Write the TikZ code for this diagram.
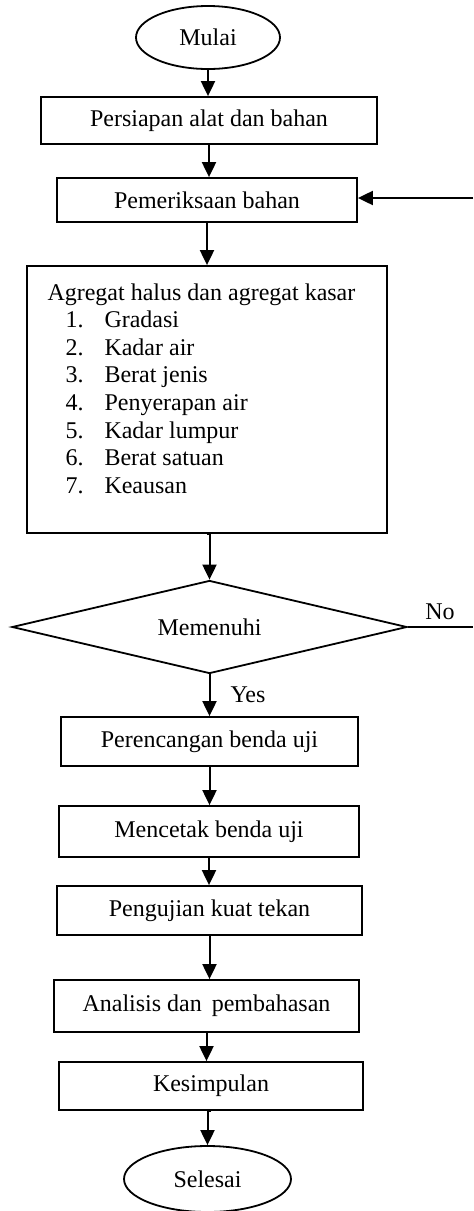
\documentclass[tikz,border=0pt]{standalone}
\usepackage{fontspec}
\setmainfont{Liberation Serif}
\usetikzlibrary{shapes.geometric,arrows.meta,positioning,calc}
\newcommand{\agritem}[2]{\hspace*{9pt}\makebox[19.5pt][l]{#1.}#2}

\begin{document}
\begin{tikzpicture}[x=0.5pt, y=-0.5pt, font=\fontsize{12pt}{13.8pt}\selectfont,
        box/.style={draw, line width=0.9pt, inner sep=0pt},
        terminal/.style={draw, ellipse, line width=0.9pt, inner sep=0pt},
        decision/.style={draw, diamond, aspect=4, line width=0.9pt, inner sep=0pt},
        arr/.style={-{Triangle[length=7.5pt,width=7pt]}, line width=1pt}]
            \useasboundingbox (0,0) rectangle (473,1211);

            \node[terminal, minimum width=72pt, minimum height=31.5pt] (mulai) at (208,37.5) {Mulai};
            \node[box, minimum width=168pt, minimum height=23.5pt] (persiapan) at (209,120.5) {Persiapan alat dan bahan};
            \node[box, minimum width=150pt, minimum height=22pt] (pemeriksaan) at (207,200) {Pemeriksaan bahan};

            \node[box, minimum width=180pt, minimum height=133.5pt] (agregat) at (207,399.5) {};
            \node[anchor=north west, inner sep=0pt, align=left] (agregattext) at ([xshift=10.5pt, yshift=-9pt]agregat.north west)
                {Agregat halus dan agregat kasar\\
                 \agritem{1}{Gradasi}\\
                 \agritem{2}{Kadar air}\\
                 \agritem{3}{Berat jenis}\\
                 \agritem{4}{Penyerapan air}\\
                 \agritem{5}{Kadar lumpur}\\
                 \agritem{6}{Berat satuan}\\
                 \agritem{7}{Keausan}};

            \node[decision, minimum width=197.5pt, minimum height=46.5pt] (memenuhi) at (209.5,627) {Memenuhi};
            \node (nolabel) at (440,612) {No};
            \node (yeslabel) at (248,695) {Yes};

            \node[box, minimum width=148.5pt, minimum height=24.5pt] (perencangan) at (209.5,741.5) {Perencangan benda uji};
            \node[box, minimum width=150pt, minimum height=25.5pt] (mencetak) at (209,831.5) {Mencetak benda uji};
            \node[box, minimum width=152.5pt, minimum height=24.5pt] (pengujian) at (209.5,910.5) {Pengujian kuat tekan};
            \node[box, minimum width=152.5pt, minimum height=26pt] (analisis) at (206.5,1006) {Analisis dan\, pembahasan};
            \node[box, minimum width=152pt, minimum height=24pt] (kesimpulan) at (211,1086) {Kesimpulan};
            \node[terminal, minimum width=83.5pt, minimum height=33pt] (selesai) at (207.5,1179) {Selesai};

            % alur utama
            \draw[arr] (mulai.south) -- (mulai.south |- persiapan.north);
            \draw[arr] (persiapan.south) -- (persiapan.south |- pemeriksaan.north);
            \draw[arr] (pemeriksaan.south) -- (pemeriksaan.south |- agregat.north);
            \draw[arr] (agregat.south) -- (agregat.south -| memenuhi.north) -- (memenuhi.north);
            \draw[arr] (memenuhi.south) -- (memenuhi.south |- perencangan.north);
            \draw[arr] (perencangan.south) -- (perencangan.south |- mencetak.north);
            \draw[arr] (mencetak.south) -- (mencetak.south |- pengujian.north);
            \draw[arr] (pengujian.south) -- (pengujian.south |- analisis.north);
            \draw[arr] (analisis.south) -- (analisis.south |- kesimpulan.north);
            \draw[arr] (kesimpulan.south) -- (kesimpulan.south -| selesai.north) -- (selesai.north);

            % kembali ke pemeriksaan
            \coordinate (noend) at (473,627);
            \coordinate (backin) at (473,198);
            \draw[line width=1pt] (memenuhi.east) -- (noend);
            \draw[arr] (backin) -- (backin -| pemeriksaan.east);
\end{tikzpicture}
\end{document}
